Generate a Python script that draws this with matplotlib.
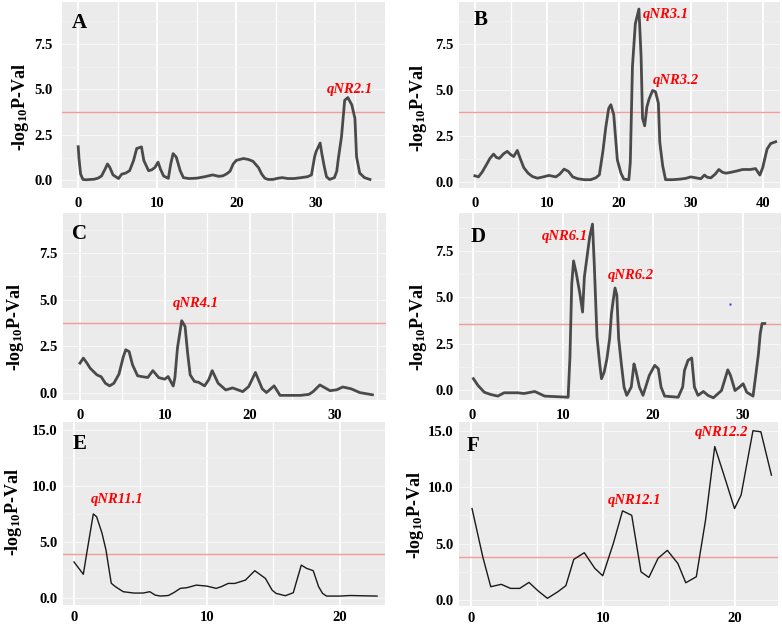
import matplotlib
matplotlib.use("Agg")
import matplotlib.pyplot as plt
from matplotlib.ticker import MultipleLocator, FormatStrFormatter, FixedLocator

plt.rcParams['font.family'] = ['Liberation Serif', 'DejaVu Serif']
plt.rcParams['font.weight'] = 'bold'
plt.rcParams['mathtext.fontset'] = 'custom'
plt.rcParams['mathtext.rm'] = 'Liberation Serif:bold'
plt.rcParams['mathtext.it'] = 'Liberation Serif:bold:italic'
plt.rcParams['mathtext.bf'] = 'Liberation Serif:bold'

# ---------------- data ----------------
A_x = [0, 0.1, 0.3, 0.6, 1.0, 1.5, 2.0, 2.5, 2.95, 3.4, 3.7, 4.0, 4.4, 5.1, 5.5, 6.0, 6.5, 7.0, 7.4, 8.0,
       8.3, 8.9, 9.3, 9.7, 10.1, 10.4, 10.8, 11.4, 11.7, 12.0, 12.4, 12.9, 13.3, 14.0, 15.0, 16.0, 17.0,
       17.8, 18.3, 18.75, 19.2, 19.6, 20.0, 20.9, 21.5, 22.1, 22.8, 23.2, 23.6, 24.0, 24.6, 25.3, 25.8,
       26.5, 27.3, 28.2, 29.0, 29.5, 29.9, 30.1, 30.6, 30.8, 31.1, 31.4, 31.8, 32.4, 32.7, 32.9, 33.3,
       33.7, 34.1, 34.6, 35.0, 35.2, 35.6, 36.2, 36.9]
A_y = [1.85, 1.2, 0.35, 0.05, 0.03, 0.05, 0.06, 0.12, 0.24, 0.62, 0.9, 0.71, 0.3, 0.1, 0.34, 0.4, 0.53, 1.09, 1.75, 1.84,
       1.09, 0.53, 0.58, 0.71, 1.0, 0.62, 0.24, 0.11, 0.9, 1.47, 1.28, 0.53, 0.15, 0.1, 0.12, 0.2, 0.3,
       0.22, 0.25, 0.35, 0.5, 0.9, 1.1, 1.2, 1.15, 1.05, 0.7, 0.35, 0.12, 0.05, 0.05, 0.12, 0.15,
       0.1, 0.1, 0.15, 0.2, 0.3, 1.3, 1.6, 2.05, 1.5, 0.8, 0.2, 0.05, 0.15, 0.5, 1.2, 2.4,
       4.4, 4.55, 4.15, 3.4, 1.3, 0.4, 0.15, 0.05]

B_x = [0, 0.5, 1.0, 1.6, 2.1, 2.6, 3.0, 3.4, 4.0, 4.5, 5.0, 5.4, 5.9, 6.3, 6.8, 7.4, 8.0, 8.7, 9.5, 10.3,
       11.25, 11.8, 12.4, 13.0, 13.6, 14.3, 15.2, 16.1, 16.8, 17.3, 17.8, 18.2, 18.6, 18.9, 19.3, 19.8,
       20.3, 20.7, 21.4, 21.6, 21.9, 22.3, 22.8, 23.1, 23.3, 23.6, 23.9, 24.2, 24.7, 25.1, 25.5, 25.7,
       26.1, 26.5, 27.5, 28.5, 29.3, 30.0, 30.7, 31.4, 31.9, 32.3, 32.8, 33.4, 33.9, 34.4, 34.9, 35.6,
       36.4, 37.2, 38.3, 39.0, 39.6, 40.0, 40.3, 40.6, 41.1, 41.8]
B_y = [0.36, 0.3, 0.55, 0.95, 1.3, 1.53, 1.35, 1.3, 1.55, 1.68, 1.5, 1.4, 1.73, 1.3, 0.8, 0.5, 0.32, 0.23, 0.3, 0.38,
       0.3, 0.45, 0.72, 0.6, 0.3, 0.2, 0.15, 0.15, 0.25, 0.41, 1.7, 3.0, 4.0, 4.2, 3.66, 1.22,
       0.5, 0.18, 0.15, 1.08, 6.27, 8.58, 9.37, 6.8, 3.47, 3.06, 4.07, 4.5, 4.97, 4.9, 4.29, 2.16,
       0.9, 0.15, 0.15, 0.18, 0.22, 0.3, 0.25, 0.2, 0.4, 0.28, 0.25, 0.45, 0.7, 0.55, 0.5, 0.55,
       0.62, 0.7, 0.7, 0.75, 0.4, 0.8, 1.3, 1.8, 2.1, 2.2]

C_x = [0, 0.4, 0.8, 1.2, 2.0, 2.5, 3.0, 3.5, 4.0, 4.6, 5.1, 5.4, 5.8, 6.2, 6.8, 7.4, 8.0, 8.6, 9.3, 10.0,
       10.4, 11.0, 11.2, 11.5, 12.0, 12.4, 12.7, 13.0, 13.5, 14.0, 14.7, 15.2, 15.6, 16.3, 17.2, 18.0,
       18.6, 19.2, 19.9, 20.7, 21.5, 22.0, 22.9, 23.6, 25.0, 26.0, 27.0, 27.5, 28.3, 29.5, 30.3, 31.0,
       32.0, 33.0, 34.5]
C_y = [1.58, 1.85, 1.6, 1.31, 0.95, 0.85, 0.5, 0.36, 0.5, 0.99, 1.9, 2.3, 2.2, 1.49, 0.9, 0.85, 0.81, 1.18, 0.8, 0.72,
       0.86, 0.35, 0.8, 2.39, 3.86, 3.55, 2.12, 0.95, 0.6, 0.55, 0.36, 0.7, 1.18, 0.5, 0.14, 0.25,
       0.15, 0.05, 0.32, 1.08, 0.2, 0.0, 0.36, -0.15, -0.15, -0.15, -0.1, 0.05, 0.41, 0.1, 0.15, 0.3,
       0.2, 0.0, -0.12]

D_x = [0.1, 0.6, 1.3, 2.0, 2.8, 3.5, 5.0, 5.7, 6.9, 8.0, 10.6, 10.8, 11.0, 11.2, 11.5, 11.9, 12.2, 12.4,
       12.7, 13.0, 13.3, 13.5, 13.8, 14.1, 14.3, 14.6, 14.9, 15.2, 15.4, 15.6, 15.8, 16.0, 16.2, 16.5,
       16.8, 17.1, 17.6, 17.9, 18.1, 18.5, 18.9, 19.6, 20.2, 20.6, 20.9, 21.3, 22.8, 23.3, 23.5, 23.9,
       24.3, 24.6, 25.0, 25.6, 26.1, 26.7, 27.6, 28.3, 28.6, 29.1, 29.6, 30.0, 30.4, 31.1, 31.4, 31.7,
       31.9, 32.1, 32.4]
D_y = [0.6, 0.24, -0.13, -0.25, -0.34, -0.16, -0.16, -0.2, -0.09, -0.34, -0.4, 1.77, 5.7, 6.96, 6.3, 5.2, 4.2, 6.1,
       7.2, 8.3, 8.95, 6.75, 2.86, 1.4, 0.6, 0.96, 1.68, 2.77, 4.1, 4.85, 5.5, 5.1, 2.77, 1.4,
       0.14, -0.3, 0.15, 1.4, 1.05, 0.15, -0.3, 0.78, 1.32, 1.14, 0.15, -0.34, -0.4, 0.15, 1.05, 1.6,
       1.72, 0.15, -0.3, -0.09, -0.3, -0.43, -0.04, 1.08, 0.78, -0.04, 0.15, 0.33, -0.13, -0.34, 0.78, 1.95,
       3.04, 3.58, 3.58]
D_dot_x = [28.5]
D_dot_y = [4.65]

E_x = [0.0, 0.7, 1.0, 1.45, 1.7, 2.1, 2.4, 2.8, 3.1, 3.7, 4.5, 5.2, 5.7, 6.1, 6.5, 7.1, 7.5, 8.0, 8.5, 9.2,
       10.0, 10.7, 11.1, 11.6, 12.1, 12.9, 13.6, 14.4, 14.9, 15.2, 15.9, 16.5, 16.7, 17.1, 17.5, 18.0,
       18.4, 18.7, 19.0, 20.0, 20.8, 21.5, 22.8]
E_y = [3.2, 2.1, 4.3, 7.5, 7.25, 5.8, 4.3, 1.3, 1.0, 0.54, 0.42, 0.42, 0.54, 0.24, 0.15, 0.2, 0.45, 0.84, 0.9, 1.13,
       1.04, 0.84, 1.0, 1.28, 1.28, 1.58, 2.42, 1.73, 0.69, 0.39, 0.18, 0.45, 1.28, 2.92, 2.63, 2.42,
       1.0, 0.39, 0.15, 0.15, 0.2, 0.18, 0.15]

F_x = [0.08, 0.9, 1.5, 2.3, 3.0, 3.7, 4.4, 5.1, 5.8, 6.6, 7.2, 7.8, 8.6, 9.4, 10.0, 10.8, 11.5, 12.2,
       12.9, 13.5, 14.2, 14.9, 15.7, 16.3, 17.1, 17.8, 18.5, 19.2, 20.0, 20.5, 21.4, 22.0, 22.8]
F_y = [8.1, 3.8, 1.18, 1.39, 1.03, 1.03, 1.56, 0.8, 0.15, 0.74, 1.27, 3.6, 4.19, 2.8, 2.15, 5.0, 7.9, 7.5,
       2.5, 2.0, 3.7, 4.4, 3.24, 1.53, 2.06, 7.08, 13.6, 11.06, 8.1, 9.3, 15.0, 14.9, 11.06]

panel_letters = ['A', 'B', 'C', 'D', 'E', 'F']
thresholds = [3.77, 3.8, 3.75, 3.58, 3.9, 3.8]
qtl_labels = {
    'A': [('qNR2.1', 34.3, 5.0)],
    'B': [('qNR3.1', 26.5, 9.06), ('qNR3.2', 27.9, 5.5)],
    'C': [('qNR4.1', 13.7, 4.8)],
    'D': [('qNR6.1', 10.2, 8.28), ('qNR6.2', 17.6, 6.2)],
    'E': [('qNR11.1', 3.26, 8.8)],
    'F': [('qNR12.1', 12.4, 8.8), ('qNR12.2', 19.0, 14.8)],
}
letter_pos = {'A': (0.2, 8.67), 'B': (0.74, 8.76), 'C': (0.0, 8.5), 'D': (0.63, 8.28),
              'E': (0.45, 13.8), 'F': (0.13, 13.6)}
xticks = {'A': [0, 10, 20, 30], 'B': [0, 10, 20, 30, 40], 'C': [0, 10, 20, 30],
          'D': [0, 10, 20, 30], 'E': [0, 10, 20], 'F': [0, 10, 20]}
yticks_low = [0.0, 2.5, 5.0, 7.5]
yticks_high = [0.0, 5.0, 10.0, 15.0]

# ---------------- layout (pixels) ----------------
W, H = 782, 627
boxes = {  # left, right, top, bottom
    'A': (62, 385, 2, 188), 'B': (459, 780, 2, 188),
    'C': (63, 386, 213, 400), 'D': (459, 781, 213, 400),
    'E': (63, 385, 422, 605), 'F': (459, 778, 422, 606),
}
xlims = {'A': (-2.05, 38.8), 'B': (-2.2, 42.4), 'C': (-2.0, 36.1), 'D': (-1.5, 34.2),
         'E': (-0.83, 23.4), 'F': (-0.91, 23.3)}
ylims = {'A': (-0.42, 9.8), 'B': (-0.3, 9.75), 'C': (-0.4, 9.65), 'D': (-0.55, 9.55),
         'E': (-0.65, 15.73), 'F': (-0.53, 15.77)}
ylabel_pos = {'A': (21, 107), 'B': (419, 108), 'C': (16, 327), 'D': (419, 327),
              'E': (14, 512), 'F': (415, 515)}

series = {'A': (A_x, A_y), 'B': (B_x, B_y), 'C': (C_x, C_y), 'D': (D_x, D_y),
          'E': (E_x, E_y), 'F': (F_x, F_y)}

fig = plt.figure(figsize=(W / 100, H / 100), dpi=100)
fig.patch.set_facecolor('white')

for i, key in enumerate(panel_letters):
    l, r, t, b = boxes[key]
    ax = fig.add_axes([l / W, 1 - b / H, (r - l) / W, (b - t) / H])
    ax.set_facecolor('#EBEBEB')
    for s in ax.spines.values():
        s.set_visible(False)
    ax.set_axisbelow(True)
    xs, ys = series[key]
    high = key in ('E', 'F')
    if high:
        ax.plot(xs, ys, color='#1a1a1a', lw=1.0, zorder=3)
    else:
        ax.plot(xs, ys, color='#4a4a4a', lw=2.0, zorder=3)
    ax.axhline(thresholds[i], color='#F29B9B', lw=1.0, zorder=2)
    ax.set_xlim(*xlims[key])
    ax.set_ylim(*ylims[key])
    ax.xaxis.set_major_locator(FixedLocator(xticks[key]))
    ax.xaxis.set_minor_locator(MultipleLocator(5))
    if high:
        ax.yaxis.set_major_locator(FixedLocator(yticks_high))
        ax.yaxis.set_minor_locator(MultipleLocator(2.5))
    else:
        ax.yaxis.set_major_locator(FixedLocator(yticks_low))
        ax.yaxis.set_minor_locator(MultipleLocator(1.25))
    ax.yaxis.set_major_formatter(FormatStrFormatter('%.1f'))
    ax.grid(which='major', axis='x', color='white', lw=1.3)
    ax.grid(which='minor', axis='x', color='white', lw=0.9)
    ax.grid(which='major', axis='y', color='#F7F7F7', lw=0.8)
    ax.grid(which='minor', axis='y', color='#F3F3F3', lw=0.6)
    ax.tick_params(which='both', length=0)
    ax.tick_params(axis='x', labelsize=10.5, pad=4.5 if high else 6.5)
    ax.tick_params(axis='y', labelsize=10.5, pad=7 if key == 'A' else 4.0)
    for lab in ax.get_xticklabels() + ax.get_yticklabels():
        lab.set_fontweight('bold')
    if key == 'D':
        ax.plot(D_dot_x, D_dot_y, 's', ms=1.5, color='#3030ff', mec='none', zorder=4)
    lx, ly = letter_pos[key]
    ax.text(lx, ly, key, fontsize=15, fontweight='bold', ha='center', va='center', zorder=5)
    for txt, qx, qy in qtl_labels[key]:
        ax.text(qx, qy, txt, color='#FF0000', fontsize=10.5, fontweight='bold', fontstyle='italic',
                ha='center', va='center', zorder=5)
    px, py = ylabel_pos[key]
    fig.text(px / W, 1 - py / H, r'-log$_{10}$P-Val', rotation=90, fontsize=13, fontweight='bold',
             ha='center', va='center')

fig.savefig('out.png', dpi=100, facecolor='white')
